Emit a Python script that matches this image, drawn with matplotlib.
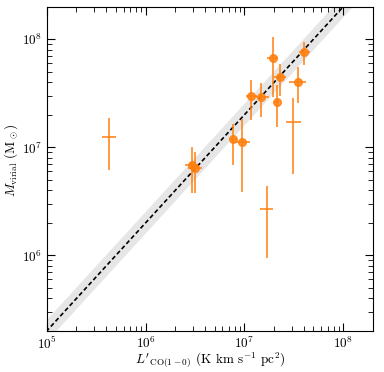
import matplotlib
matplotlib.use("Agg")
import matplotlib.pyplot as plt
import numpy as np

plt.rcParams['font.family'] = 'serif'
plt.rcParams['font.serif'] = ['cmr10', 'DejaVu Serif']
plt.rcParams['mathtext.fontset'] = 'cm'
plt.rcParams['axes.formatter.use_mathtext'] = True
plt.rcParams['axes.unicode_minus'] = False

# Detected sources (with markers)
lco = [2.97e6, 3.16e6, 7.7e6, 9.4e6, 1.17e7, 1.47e7, 1.93e7, 2.29e7, 2.12e7, 3.46e7, 4.04e7]
lco_lo = [2.5e6, 2.7e6, 7.0e6, 8.0e6, 1.04e7, 1.31e7, 1.69e7, 2.0e7, 2.0e7, 2.83e7, 3.56e7]
lco_hi = [3.42e6, 3.7e6, 8.5e6, 1.14e7, 1.34e7, 1.77e7, 2.19e7, 2.65e7, 2.25e7, 4.2e7, 4.6e7]
mvir = [6.8e6, 6.5e6, 1.2e7, 1.12e7, 2.98e7, 2.9e7, 6.76e7, 4.5e7, 2.64e7, 4.05e7, 7.7e7]
mvir_lo = [3.8e6, 3.8e6, 6.8e6, 3.84e6, 1.78e7, 1.89e7, 2.94e7, 2.96e7, 1.53e7, 2.55e7, 5.74e7]
mvir_hi = [1.01e7, 8.96e6, 1.66e7, 1.81e7, 4.17e7, 3.9e7, 1.06e8, 5.86e7, 3.74e7, 5.5e7, 9.4e7]

# Sources plotted without markers
lco2 = [4.3e5, 1.68e7, 3.1e7]
lco2_lo = [3.6e5, 1.44e7, 2.64e7]
lco2_hi = [5.0e5, 1.95e7, 3.72e7]
mvir2 = [1.24e7, 2.7e6, 1.71e7]
mvir2_lo = [6.2e6, 9.55e5, 5.7e6]
mvir2_hi = [1.85e7, 4.4e6, 2.84e7]

ratio = 2.0
band_dex = 0.1

fig = plt.figure(figsize=(3.84, 3.72), dpi=100)
ax = fig.add_axes([0.1216, 0.1102, 0.8497, 0.8718])

xl = np.logspace(4.5, 9, 200)
ax.fill_between(xl, ratio * xl * 10**(-band_dex), ratio * xl * 10**band_dex,
                color='0.9', lw=0, zorder=1)
ax.plot(xl, ratio * xl, color='k', ls=(0, (2.6, 1.6)), lw=1.2, zorder=2)

def err(v, lo, hi):
    v = np.array(v); return [v - np.array(lo), np.array(hi) - v]

ax.errorbar(lco, mvir, xerr=err(lco, lco_lo, lco_hi), yerr=err(mvir, mvir_lo, mvir_hi),
            fmt='o', color='#ff7f0e', ms=5.5, elinewidth=1.3, ecolor='#ff7f0e',
            alpha=0.85, capsize=0, zorder=3)
ax.errorbar(lco2, mvir2, xerr=err(lco2, lco2_lo, lco2_hi), yerr=err(mvir2, mvir2_lo, mvir2_hi),
            fmt='none', ecolor='#ff7f0e', elinewidth=1.3, alpha=0.85, capsize=0, zorder=3)

ax.set_xscale('log')
ax.set_yscale('log')
ax.set_xlim(1e5, 2e8)
ax.set_ylim(2e5, 2e8)
ax.tick_params(which='both', direction='in', top=True, right=True, labelsize=9.5)
ax.tick_params(which='major', length=6, width=0.8)
ax.tick_params(which='minor', length=3.5, width=0.6)
ax.set_xlabel(r"$L'_{\rm CO(1-0)}$ (K km s$^{-1}$ pc$^2$)", fontsize=9.5)
ax.set_ylabel(r"$M_{\rm virial}$ (M$_\odot$)", fontsize=9.5)
ax.xaxis.set_label_coords(0.5, -0.058)
ax.yaxis.set_label_coords(-0.082, 0.527)

fig.savefig('out.png', dpi=100)
